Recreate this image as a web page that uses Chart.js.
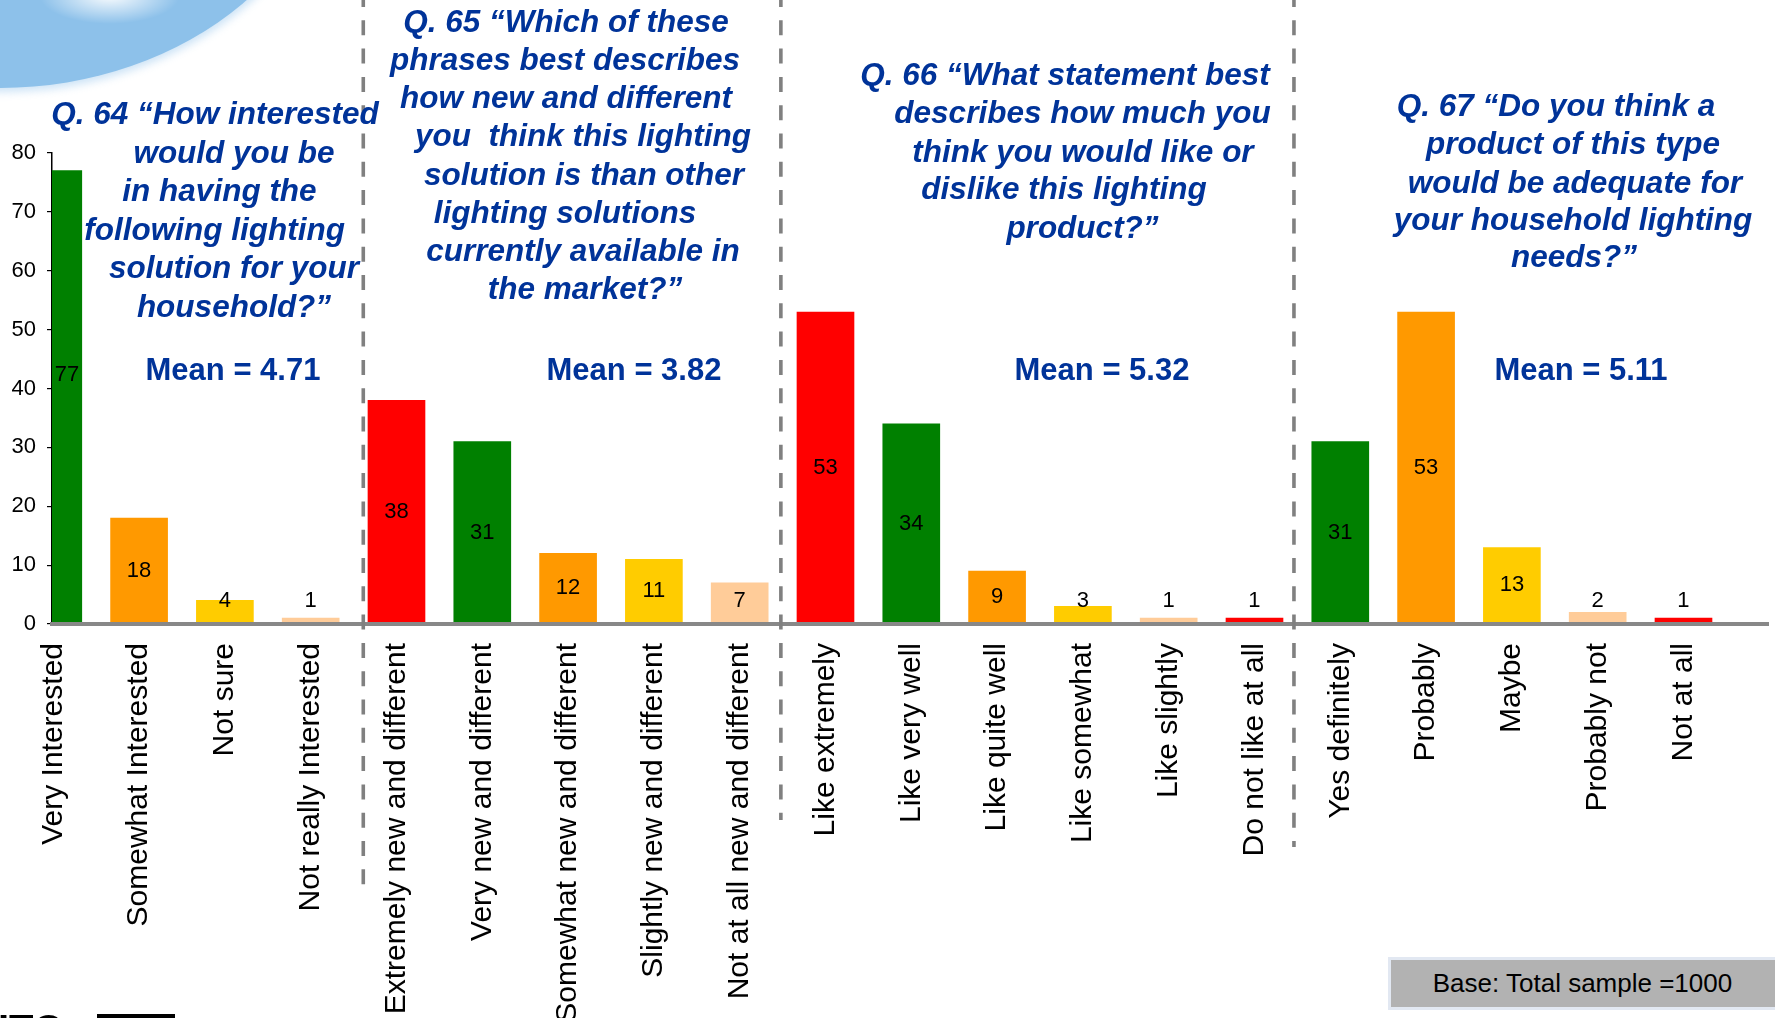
<!DOCTYPE html>
<html>
<head>
<meta charset="utf-8">
<title>Lighting product survey – Q64 to Q67</title>
<script src="https://cdn.jsdelivr.net/npm/chart.js@4.4.1/dist/chart.umd.min.js"></script>
<style>
  html, body { margin: 0; padding: 0; background: #fff; overflow: hidden; }
  #wrap { position: relative; width: 1775px; height: 1018px; overflow: hidden;
          font-family: "Liberation Sans", Arial, sans-serif; }
  #chartBox { position: absolute; left: 0; top: 0; width: 1775px; height: 1018px; }
  .blob { position: absolute; left: -343px; top: -488px; width: 686px; height: 576px; border-radius: 50%;
          background: radial-gradient(ellipse 70px 28px at 66% 84%, rgba(255,255,255,0.95), rgba(255,255,255,0) 100%), #8dc1ea;
          box-shadow: 0 0 8px 4px rgba(141,193,234,0.45); }
  .q { position: absolute; white-space: pre; color: #003399; font-weight: bold; font-style: italic;
       font-size: 31.5px; line-height: 1; transform: translateX(-50%); }
  .mean { position: absolute; white-space: pre; color: #003399; font-weight: bold;
          font-size: 31px; line-height: 1; transform: translateX(-50%); }
  .base { position: absolute; left: 1388px; top: 957px; width: 390px; height: 53px; box-sizing: border-box;
          background: #b2b2b2; border: 3px solid #e2e8f2; border-right: none;
          font-size: 26px; line-height: 47px; color: #000; text-align: center; padding-right: 4px; }
  .logo { position: absolute; left: -2px; top: 1009px; font-size: 40px; font-weight: bold; line-height: 1; color: #000; }
  .logoBar { position: absolute; left: 97px; top: 1014px; width: 78px; height: 6px; background: #000; }
</style>
</head>
<body>
<div id="wrap">
  <div class="blob"></div>
  <div id="chartBox"><canvas id="surveyChart"></canvas></div>
  <div id="texts"></div>
  <div class="base">Base: Total sample =1000</div>
  <div class="logo">ITC</div>
  <div class="logoBar"></div>
</div>
<script>
const categories = [
  'Very Interested', 'Somewhat Interested', 'Not sure', 'Not really Interested',
  'Extremely new and different', 'Very new and different', 'Somewhat new and different',
  'Slightly new and different', 'Not at all new and different',
  'Like extremely', 'Like very well', 'Like quite well', 'Like somewhat', 'Like slightly', 'Do not like at all',
  'Yes definitely', 'Probably', 'Maybe', 'Probably not', 'Not at all'
];
const percentValues = [77, 18, 4, 1, 38, 31, 12, 11, 7, 53, 34, 9, 3, 1, 1, 31, 53, 13, 2, 1];

const GREEN = '#008000', ORANGE = '#ff9900', YELLOW = '#ffcc00', PEACH = '#ffcc99', RED = '#ff0000';
const barColors = [
  GREEN, ORANGE, YELLOW, PEACH,
  RED, GREEN, ORANGE, YELLOW, PEACH,
  RED, GREEN, ORANGE, YELLOW, PEACH, RED,
  GREEN, ORANGE, YELLOW, PEACH, RED
];
const yTickValues = [0, 10, 20, 30, 40, 50, 60, 70, 80];

const meanScores = ['4.71', '3.82', '5.32', '5.11'];
const questionLines = [
  ['Q. 64 \u201cHow interested', 'would you be', 'in having the', 'following lighting', 'solution for your', 'household?\u201d'],
  ['Q. 65 \u201cWhich of these', 'phrases best describes', 'how new and different', 'you  think this lighting',
   'solution is than other', 'lighting solutions', 'currently available in', 'the market?\u201d'],
  ['Q. 66 \u201cWhat statement best', 'describes how much you', 'think you would like or', 'dislike this lighting', 'product?\u201d'],
  ['Q. 67 \u201cDo you think a', 'product of this type', 'would be adequate for', 'your household lighting', 'needs?\u201d']
];

// layout of the text blocks (centre x, middle of caps y)
const questionPos = [
  [[215, 113.7], [234, 152], [219.5, 190.5], [214.7, 229], [234, 267.5], [234, 306]],
  [[566, 21.7], [565, 59], [566, 97.8], [583, 135.8], [584, 174], [565, 212], [583, 250.8], [585, 288]],
  [[1065, 74.7], [1082.5, 112.8], [1083, 151], [1064, 188.7], [1082.5, 227]],
  [[1556, 105], [1573, 143], [1575, 182], [1573, 219], [1574, 256.3]]
];
const meanPos = [[233, 369], [634, 369], [1102, 369], [1581, 369]];

// dashed dividers between the questions, in category units
const dividerAt = [3.613, 8.48, 14.46];
const dividerEnd = [885, 820, 847];

const texts = document.getElementById('texts');
function addText(cls, str, cx, cy, size) {
    const d = document.createElement('div');
    d.className = cls;
    d.textContent = str;
    d.style.left = cx + 'px';
    d.style.top = (cy - 0.49 * size) + 'px';
    texts.appendChild(d);
}
questionLines.forEach((lines, q) => {
    lines.forEach((line, i) => addText('q', line, questionPos[q][i][0], questionPos[q][i][1], 31.5));
    addText('mean', 'Mean = ' + meanScores[q], meanPos[q][0], meanPos[q][1], 31);
});

// the first label sits a little higher than the bar middle in the original
const labelNudge = { 0: -22 };

const valueLabels = {
    id: 'valueLabels',
    afterDatasetsDraw(chart) {
        const { ctx, chartArea } = chart;
        const meta = chart.getDatasetMeta(0);
        ctx.save();
        ctx.font = '22px "Liberation Sans", Arial, sans-serif';
        ctx.fillStyle = '#000';
        ctx.textAlign = 'center';
        ctx.textBaseline = 'middle';
        meta.data.forEach((bar, i) => {
            const left = Math.max(bar.x - bar.width / 2, chartArea.left);
            const right = Math.min(bar.x + bar.width / 2, chartArea.right);
            const y = Math.min((bar.y + bar.base) / 2, bar.base - 22) + (labelNudge[i] || 0);
            ctx.fillText(String(percentValues[i]), (left + right) / 2, y);
        });
        ctx.restore();
    }
};

const dividers = {
    id: 'dividers',
    afterDraw(chart) {
        const { ctx } = chart;
        const xs = chart.scales.x;
        ctx.save();
        ctx.strokeStyle = '#808080';
        ctx.lineWidth = 3.6;
        ctx.setLineDash([15, 13.3]);
        ctx.lineDashOffset = 8;
        dividerAt.forEach((pos, k) => {
            const x = xs.getPixelForValue(pos);
            ctx.beginPath();
            ctx.moveTo(x, 0);
            ctx.lineTo(x, dividerEnd[k]);
            ctx.stroke();
        });
        ctx.restore();
    }
};

Chart.defaults.font.family = '"Liberation Sans", Arial, sans-serif';

new Chart(document.getElementById('surveyChart'), {
    type: 'bar',
    data: {
        datasets: [{
            data: percentValues.map((v, i) => ({ x: i, y: v })),
            backgroundColor: barColors,
            borderWidth: 0,
            barThickness: 57,
            clip: 0
        }]
    },
    plugins: [valueLabels, dividers],
    options: {
        responsive: true,
        maintainAspectRatio: false,
        animation: false,
        layout: { padding: { top: 153, right: 7, bottom: 0, left: 0 } },
        plugins: { legend: { display: false }, tooltip: { enabled: false } },
        scales: {
            x: {
                type: 'linear',
                offset: false,
                min: -0.015,
                max: 19.985,
                afterBuildTicks: (scale) => { scale.ticks = categories.map((c, i) => ({ value: i })); },
                afterFit: (scale) => { scale.height = 394; },
                grid: { display: false, drawTicks: false, offset: false },
                border: { display: true, color: '#888888', width: 4, z: 1 },
                ticks: {
                    autoSkip: false,
                    minRotation: 90,
                    maxRotation: 90,
                    padding: 19,
                    color: '#000',
                    font: { size: 30 },
                    callback: (v) => categories[v] ?? ''
                }
            },
            y: {
                min: 0,
                max: 80,
                afterBuildTicks: (scale) => { scale.ticks = yTickValues.map(v => ({ value: v })); },
                afterFit: (scale) => { scale.width = 52; },
                grid: { drawOnChartArea: false, drawTicks: true, tickLength: 5, color: '#000', lineWidth: 1.2 },
                border: { display: true, color: '#000', width: 1.5 },
                ticks: { padding: 11, color: '#000', font: { size: 22 } }
            }
        }
    }
});
</script>
</body>
</html>
